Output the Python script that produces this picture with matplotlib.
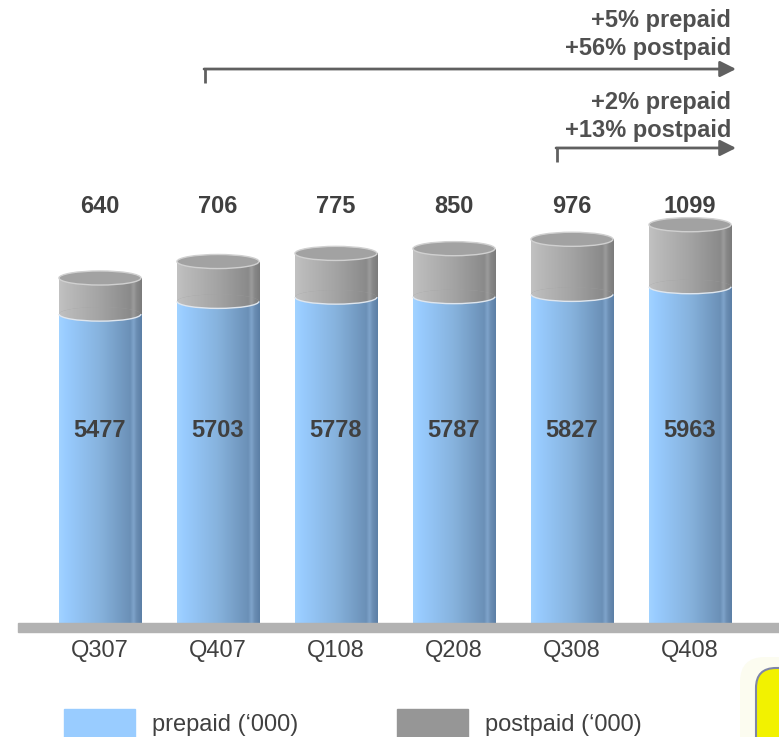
import numpy as np
import matplotlib.pyplot as plt
from matplotlib.patches import Ellipse, Arc, Rectangle, FancyBboxPatch
from matplotlib.colors import LinearSegmentedColormap

quarters = ['Q307', 'Q407', 'Q108', 'Q208', 'Q308', 'Q408']
prepaid = [5477, 5703, 5778, 5787, 5827, 5963]
postpaid = [640, 706, 775, 850, 976, 1099]

growth_long = ['+5% prepaid', '+56% postpaid']   # Q407 -> Q408
growth_short = ['+2% prepaid', '+13% postpaid']  # Q308 -> Q408

plt.rcParams['font.family'] = ['Liberation Sans', 'DejaVu Sans']
txt = '#404040'

blue_cm = LinearSegmentedColormap.from_list('blue', [
    (0, '#a2d3ff'), (0.08, '#99ccff'), (0.5, '#86b2dc'), (0.86, '#6b90b7'),
    (0.9, '#7fa4cb'), (0.94, '#6a8db3'), (1, '#5b7fa6')])
gray_cm = LinearSegmentedColormap.from_list('gray', [
    (0, '#c2c2c2'), (0.08, '#bbbbbb'), (0.5, '#a3a3a3'), (0.86, '#8a8a8a'),
    (0.9, '#9c9c9c'), (0.94, '#878787'), (1, '#7b7b7b')])

fig = plt.figure(figsize=(7.79, 7.37), dpi=100)
ax = fig.add_axes([0, 1 - 637 / 737, 1, 637 / 737])
ax.axis('off')

upp = 17.73          # data units per pixel
w = 0.695            # cylinder width
eh = 250             # ellipse height in data units
x = np.arange(len(quarters))

grad = np.linspace(0, 1, 256).reshape(1, -1)


def shade(patch, cmap, z):
    if isinstance(patch, Ellipse):
        cx, cy = patch.center
        x0, x1 = cx - patch.width / 2, cx + patch.width / 2
        y0, y1 = cy - patch.height / 2, cy + patch.height / 2
    else:
        x0, y0 = patch.get_xy()
        x1, y1 = x0 + patch.get_width(), y0 + patch.get_height()
    im = ax.imshow(grad, cmap=cmap, extent=[x0, x1, y0, y1], aspect='auto',
                   interpolation='bilinear', zorder=z)
    im.set_clip_path(patch)


pre_bars = ax.bar(x, prepaid, width=w, color='#88b4de', lw=0, zorder=2)
post_bars = ax.bar(x, postpaid, bottom=prepaid, width=w, color='#a3a3a3',
                   lw=0, zorder=2)

for i in range(len(x)):
    p, q = prepaid[i], postpaid[i]
    shade(pre_bars[i], blue_cm, 3)
    e0 = Ellipse((x[i], 0), w, eh, facecolor='#88b4de', edgecolor='none',
                 zorder=2)
    ax.add_patch(e0)
    shade(e0, blue_cm, 3)
    shade(post_bars[i], gray_cm, 4)
    e1 = Ellipse((x[i], p), w, eh, facecolor='#a3a3a3', edgecolor='none',
                 zorder=4)
    ax.add_patch(e1)
    shade(e1, gray_cm, 4)
    ax.add_patch(Arc((x[i], p), w, eh, theta1=190, theta2=350,
                     color='#dfe6ee', lw=1.0, zorder=5))
    ax.add_patch(Ellipse((x[i], p + q), w, eh, facecolor='#a2a2a2',
                         edgecolor='#d0d0d0', lw=1.0, zorder=6))
    ax.text(x[i], 3420, f'{p}', ha='center', va='center', fontsize=17,
            fontweight='bold', color=txt, zorder=7)
    ax.text(x[i], 7380, f'{q}', ha='center', va='center', fontsize=17,
            fontweight='bold', color=txt, zorder=7)
    ax.text(x[i], -28 * upp, quarters[i], ha='center', va='center',
            fontsize=17, color=txt, clip_on=False)

# floor band
ax.axhspan(-9 * upp, 0, xmin=18 / 779, xmax=1, color='#b2b2b2', zorder=8)

# growth arrows
acol = '#606060'
for xs, yb, yt in [(x[1] - 0.11, 9574, 9822), (x[4] - 0.127, 8173, 8422)]:
    ax.plot([xs, xs], [yb, yt], color=acol, lw=2, solid_capstyle='butt')
    ax.annotate('', xy=(x[5] + 0.39, yt), xytext=(xs - 0.008, yt),
                arrowprops=dict(arrowstyle='-|>', color=acol, lw=2,
                                mutation_scale=24, shrinkA=0, shrinkB=0))

for lab, yy in zip(growth_long + growth_short, [10690, 10190, 9220, 8730]):
    ax.text(x[5] + 0.35, yy, lab, ha='right', va='center', fontsize=17,
            fontweight='bold', color='#505050')

ax.set_xlim(-0.847, 5.754)
ax.set_ylim(-14 * upp, 623 * upp)

# legend
handles = [Rectangle((0, 0), 1, 1, color='#99ccff'),
           Rectangle((0, 0), 1, 1, color='#969696')]
fig.legend(handles, ["prepaid (\u2018000)", "postpaid (\u2018000)"],
           loc='lower left', bbox_to_anchor=(64 / 779, 0.0), ncol=2,
           frameon=False, fontsize=17, handlelength=3.0, handleheight=1.44,
           handletextpad=0.72, columnspacing=4.2, borderpad=0,
           borderaxespad=0, labelcolor=txt)

# clip-art fragment in the corner
fig.add_artist(FancyBboxPatch((7.40, -0.3), 0.8, 1.1,
                              boxstyle='round,pad=0,rounding_size=0.25',
                              facecolor='#fcfcf0', edgecolor='none',
                              transform=fig.dpi_scale_trans))
fig.add_artist(FancyBboxPatch((7.56, -0.3), 0.6, 0.99,
                              boxstyle='round,pad=0,rounding_size=0.2',
                              facecolor='#f2f200', edgecolor='#7f86a8', lw=1.5,
                              transform=fig.dpi_scale_trans))

fig.savefig('out.png', dpi=100)
